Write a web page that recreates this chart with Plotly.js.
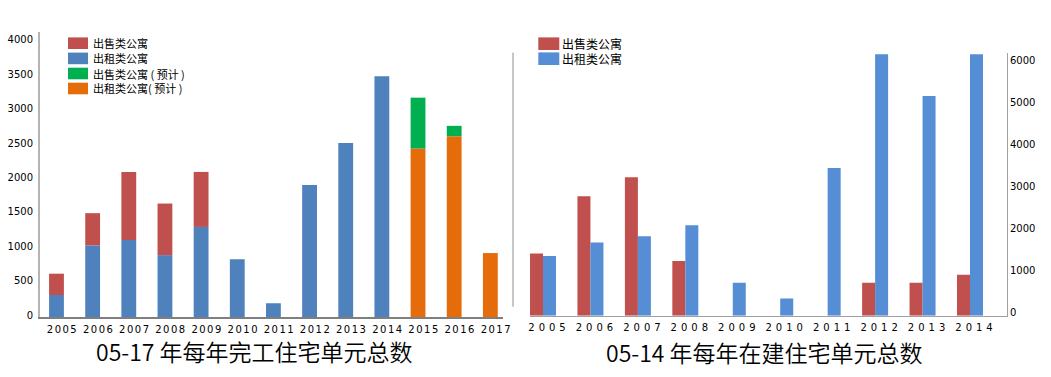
<!DOCTYPE html>
<html><head><meta charset="utf-8">
<script src="https://cdn.plot.ly/plotly-3.0.1.min.js"></script>
<style>
html,body{margin:0;padding:0;background:#fff;}
#chart{width:1051px;height:377px;}
.xtick text{letter-spacing:1.5px;}
.x2tick text{letter-spacing:4px;}
</style></head><body><div id="chart"></div>
<script>
// ---- data ----
const yearsAll = ['2005','2006','2007','2008','2009','2010','2011','2012','2013','2014','2015','2016','2017'];
const yearsDone = ['2005','2006','2007','2008','2009','2010','2011','2012','2013','2014'];
const yearsFc = ['2015','2016','2017'];
const doneRental = [320, 1040, 1120, 900, 1310, 840, 200, 1920, 2530, 3500];
const doneSale = [310, 470, 990, 750, 800, 0, 0, 0, 0, 0];
const fcRental = [2450, 2630, 930];
const fcSale = [740, 150, 0];
const buildYears = ['2005','2006','2007','2008','2009','2010','2011','2012','2013','2014'];
const buildSale = [1480, 2840, 3290, 1300, 0, 0, 0, 780, 780, 970];
const buildRental = [1420, 1740, 1890, 2150, 780, 410, 3510, 6210, 5220, 6210];
const legendLeft = ['出售类公寓', '出租类公寓', '出售类公寓 ( 预计 )', '出租类公寓( 预计 )'];
const legendRight = ['出售类公寓', '出租类公寓'];
const titleLeft = '05-17 年每年完工住宅单元总数';
const titleRight = '05-14 年每年在建住宅单元总数';

// ---- styles ----
const RED = '#C0504D', BLUE = '#4F81BD', GREEN = '#00B050', ORANGE = '#E46C0A', BLUE2 = '#558ED5';
const W = 1051, H = 377;
const px = x => x / W, py = y => 1 - y / H;
const numFont = {family: 'DejaVu Sans', size: 10, color: '#000'};
const cjk = 'Noto Sans CJK SC';
const cjkLight = '"Noto Sans CJK SC DemiLight", "Noto Sans CJK SC Light", "Noto Sans CJK SC"';

const traces = [
  {type:'bar', x:yearsDone, y:doneRental, xaxis:'x', yaxis:'y', width:0.41, marker:{color:BLUE}, name:legendLeft[1]},
  {type:'bar', x:yearsDone, y:doneSale, base:doneRental, xaxis:'x', yaxis:'y', width:0.41, marker:{color:RED}, name:legendLeft[0]},
  {type:'bar', x:yearsFc, y:fcRental, xaxis:'x', yaxis:'y', width:0.41, marker:{color:ORANGE}, name:legendLeft[3]},
  {type:'bar', x:yearsFc, y:fcSale, base:fcRental, xaxis:'x', yaxis:'y', width:0.41, marker:{color:GREEN}, name:legendLeft[2]},
  {type:'bar', x:buildYears, y:buildSale, xaxis:'x2', yaxis:'y2', width:0.274, offset:-0.274, marker:{color:RED}, name:legendRight[0]},
  {type:'bar', x:buildYears, y:buildRental, xaxis:'x2', yaxis:'y2', width:0.274, offset:0, marker:{color:BLUE2}, name:legendRight[1]}
];

const shapes = [
  {type:'line', xref:'paper', yref:'paper', x0:px(513), x1:px(513), y0:py(52.7), y1:py(306.7), line:{color:'#8c8c8c', width:1}}
];
const annotations = [
  {text:titleLeft, xref:'paper', yref:'paper', x:px(254), y:py(350.5), xanchor:'center', yanchor:'middle', showarrow:false, font:{family:cjkLight, size:23, color:'#000', weight:300}},
  {text:titleRight, xref:'paper', yref:'paper', x:px(764), y:py(351.5), xanchor:'center', yanchor:'middle', showarrow:false, font:{family:cjkLight, size:23, color:'#000', weight:300}}
];
const leftColors = [RED, BLUE, GREEN, ORANGE];
const leftRows = [43.2, 58.4, 73.5, 88.5];
legendLeft.forEach((t, i) => {
  shapes.push({type:'rect', xref:'paper', yref:'paper', x0:px(68), x1:px(88), y0:py(leftRows[i]-5.8), y1:py(leftRows[i]+5.8), fillcolor:leftColors[i], line:{width:0}});
  annotations.push({text:t, xref:'paper', yref:'paper', x:px(90.5), y:py(leftRows[i]), xanchor:'left', yanchor:'middle', showarrow:false, font:{family:cjk, size:11, color:'#000'}});
});
const rightColors = [RED, BLUE2];
const rightRows = [43.7, 58.7];
legendRight.forEach((t, i) => {
  shapes.push({type:'rect', xref:'paper', yref:'paper', x0:px(538.3), x1:px(559.3), y0:py(rightRows[i]-6.3), y1:py(rightRows[i]+6.3), fillcolor:rightColors[i], line:{width:0}});
  annotations.push({text:t, xref:'paper', yref:'paper', x:px(559.5), y:py(rightRows[i]), xanchor:'left', yanchor:'middle', showarrow:false, font:{family:cjk, size:12, color:'#000'}});
});

const layout = {
  width:W, height:H, margin:{l:0, r:0, t:0, b:0},
  paper_bgcolor:'#fff', plot_bgcolor:'rgba(0,0,0,0)',
  barmode:'overlay', showlegend:false,
  xaxis:{domain:[px(40), px(503)], anchor:'y', type:'category', categoryorder:'array', categoryarray:yearsAll,
    range:[-0.456, 12.35], showline:true, linecolor:'#7f7f7f', linewidth:1.5, ticks:'', showgrid:false, zeroline:false,
    tickfont:numFont, ticklabelshift:6, ticklabelstandoff:2, fixedrange:true},
  yaxis:{domain:[1-317/H, 1-32/H], anchor:'x', range:[0, 4145], tickmode:'linear', tick0:0, dtick:500,
    showline:true, linecolor:'#b4b4b4', linewidth:2, ticks:'', showgrid:false, zeroline:false,
    tickfont:numFont, ticklabelshift:-2, ticklabelstandoff:3, fixedrange:true},
  xaxis2:{domain:[px(530), px(1007)], anchor:'y2', type:'category', categoryorder:'array', categoryarray:buildYears,
    range:[-0.274, 9.78], showline:true, linecolor:'#a0a0a0', linewidth:1.5, ticks:'', showgrid:false, zeroline:false,
    tickfont:numFont, ticklabelshift:6, ticklabelstandoff:2, fixedrange:true},
  yaxis2:{domain:[1-315.7/H, 1-53/H], anchor:'x2', side:'right', range:[0, 6240], tickmode:'linear', tick0:0, dtick:1000,
    showline:true, linecolor:'#a0a0a0', linewidth:1, ticks:'', showgrid:false, zeroline:false,
    tickfont:numFont, ticklabelshift:-3, ticklabelstandoff:0, fixedrange:true},
  shapes:shapes, annotations:annotations
};
Plotly.newPlot('chart', traces, layout, {displayModeBar:false, staticPlot:true});
</script></body></html>
